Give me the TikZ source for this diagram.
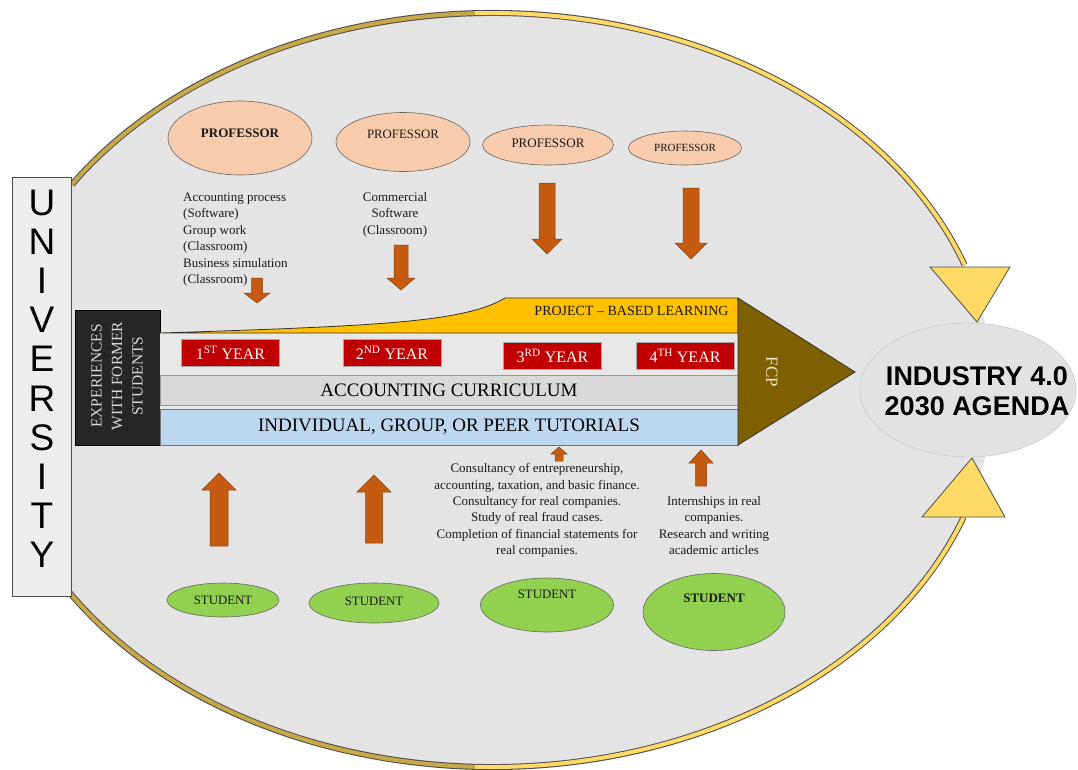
\documentclass[tikz,border=0pt]{standalone}
\usepackage{fontspec}
\setmainfont{Liberation Serif}
\newfontfamily\sansarial{Liberation Sans}
\usetikzlibrary{shapes.geometric}
\definecolor{bggray}{HTML}{E4E4E4}
\definecolor{indgray}{HTML}{E2E2E2}
\definecolor{univgray}{HTML}{EDEDED}
\definecolor{bandlight}{HTML}{E8E8E8}
\definecolor{profc}{HTML}{F8CBAD}
\definecolor{studc}{HTML}{92D050}
\definecolor{yearred}{HTML}{C00000}
\definecolor{pblyellow}{HTML}{FFC000}
\definecolor{fcpbrown}{HTML}{7F6000}
\definecolor{fcptext}{HTML}{EFE6D0}
\definecolor{tutblue}{HTML}{BDD7EE}
\definecolor{currgray}{HTML}{D9D9D9}
\definecolor{arrorange}{HTML}{C55A11}
\definecolor{goldlight}{HTML}{FFD966}
\definecolor{goldtan}{HTML}{C9A848}
\definecolor{expdark}{HTML}{262626}
\newcommand\blockdown[6]{% x, ytop, ytip, shaft, head, headlen
  \draw[blockarr] ({#1-#4/2},#2) -- ({#1+#4/2},#2) -- ({#1+#4/2},{#3-#6}) -- ({#1+#5/2},{#3-#6}) -- (#1,#3) -- ({#1-#5/2},{#3-#6}) -- ({#1-#4/2},{#3-#6}) -- cycle;}
\newcommand\blockup[6]{% x, ybot, ytip, shaft, head, headlen
  \draw[blockarr] ({#1-#4/2},#2) -- ({#1+#4/2},#2) -- ({#1+#4/2},{#3+#6}) -- ({#1+#5/2},{#3+#6}) -- (#1,#3) -- ({#1-#5/2},{#3+#6}) -- ({#1-#4/2},{#3+#6}) -- cycle;}
\begin{document}
\begin{tikzpicture}[x=1pt,y=-1pt,
  blockarr/.style={fill=arrorange, draw=arrorange!70!black, line width=0.5pt},
  prof/.style={ellipse, draw=black!60, fill=profc, inner sep=0pt, line width=0.6pt},
  stud/.style={ellipse, draw=black!60, fill=studc, inner sep=0pt, line width=0.6pt},
  yearbox/.style={rectangle, draw=black!35, fill=yearred, text=white, minimum width=98pt, minimum height=27pt, inner sep=0pt, font=\fontsize{16}{16}\selectfont},
  plain/.style={inner sep=0pt, text=black!90},
  body/.style={inner sep=0pt, text=black!90, font=\fontsize{13}{16.4}\selectfont},
  goldarc/.style={line width=4pt},
  goldrim/.style={line width=6pt, black!70},
  goldhead/.style={fill=goldlight, draw=black!70, line width=0.8pt},
]
\useasboundingbox (0,0) rectangle (1078,769);
\fill[white] (0,0) rectangle (1078,769);
% big ellipse
\begin{scope}
\clip (12,0) rectangle (1078,769);
\fill[bggray] (492,390) ellipse [x radius=501, y radius=377];
\end{scope}
% golden arcs
\path (492,390) ++(213:501 and 377) coordinate (tA);
\path (492,390) ++(268:501 and 377) coordinate (tM);
\path (492,390) ++(147.7:501 and 377) coordinate (bA);
\path (492,390) ++(92:501 and 377) coordinate (bM);
\draw[goldrim] (tA) arc[start angle=213, end angle=340.6, x radius=501, y radius=377] coordinate (tB);
\draw[goldarc, goldtan] (tA) arc[start angle=213, end angle=268, x radius=501, y radius=377];
\draw[goldarc, goldlight] (tM) arc[start angle=268, end angle=340.6, x radius=501, y radius=377];
\draw[goldrim] (bA) arc[start angle=147.7, end angle=19.7, x radius=501, y radius=377] coordinate (bB);
\draw[goldarc, goldtan] (bA) arc[start angle=147.7, end angle=92, x radius=501, y radius=377];
\draw[goldarc, goldlight] (bM) arc[start angle=92, end angle=19.7, x radius=501, y radius=377];
\coordinate (tipT) at (977,322);
\coordinate (tipB) at (972,458);
\draw[goldhead] (930,267) -- (1010,267) -- (tipT) -- cycle;
\draw[goldhead] (922,517) -- (1005,517) -- (tipB) -- cycle;
% industry
\node[ellipse, fill=indgray, draw=black!25, minimum width=216pt, minimum height=134pt, inner sep=0pt] (ind) at (968,390) {};
\node[plain, text=black, align=center, font=\sansarial\bfseries\fontsize{27}{30}\selectfont] (indt) at (977,391) {INDUSTRY 4.0\\2030 AGENDA};
% university
\node[draw=black!70, fill=univgray, minimum width=59pt, minimum height=419pt, inner sep=0pt, line width=0.8pt] (univ) at (41.5,387) {};
\foreach \L [count=\i from 0] in {U,N,I,V,E,R,S,I,T,Y}
  \node[plain, text=black, anchor=base, font=\sansarial\fontsize{37}{37}\selectfont] (u\i) at (42,{215+39.2*\i}) {\L};
% experiences
\node[fill=expdark, draw=black, minimum width=85pt, minimum height=135pt, inner sep=0pt] (exp) at (117.5,377.5) {};
\node[plain, rotate=90, text=white!85!black, align=center, font=\fontsize{15.5}{20.5}\selectfont] (expt) at (117,376) {EXPERIENCES\\WITH FORMER\\STUDENTS};
% bands
\fill[bandlight] (160,333) rectangle (738,409);
\node[rectangle, draw=black!40, fill=currgray, minimum width=578pt, minimum height=30pt, inner sep=0pt, font=\fontsize{19}{19}\selectfont] (curr) at (449,390) {ACCOUNTING CURRICULUM};
\node[rectangle, draw=black!55, fill=tutblue, minimum width=578pt, minimum height=36pt, inner sep=0pt, font=\fontsize{19}{19}\selectfont] (tut) at (449,427) {INDIVIDUAL, GROUP, OR PEER TUTORIALS};
\draw[fill=pblyellow, draw=black!80, line width=0.8pt] (160,333) .. controls (380,326) and (465,322) .. (505,298) -- (738,298) -- (738,333) -- cycle;
\node[plain, font=\fontsize{14}{14}\selectfont] (pbl) at (631.5,311) {PROJECT – BASED LEARNING};
% FCP
\draw[fill=fcpbrown, draw=black!80, line width=0.8pt] (738,298) -- (855,372) -- (738,445) -- cycle;
\node[plain, rotate=-90, text=fcptext, font=\fontsize{17}{17}\selectfont] (fcp) at (772,372) {FCP};
% years
\node[yearbox] (y1) at (230.5,353) {1\textsuperscript{ST} YEAR};
\node[yearbox] (y2) at (392,353) {2\textsuperscript{ND} YEAR};
\node[yearbox] (y3) at (552.5,356) {3\textsuperscript{RD} YEAR};
\node[yearbox] (y4) at (685,356) {4\textsuperscript{TH} YEAR};
% professors
\node[prof, minimum width=144pt, minimum height=74pt] (p1) at (240,138) {};
\node[plain, font=\bfseries\fontsize{13}{13}\selectfont] (p1t) at (240,133) {PROFESSOR};
\node[prof, minimum width=134pt, minimum height=59pt] (p2) at (403,142) {};
\node[plain, font=\fontsize{12.8}{12.8}\selectfont] (p2t) at (403,134) {PROFESSOR};
\node[prof, minimum width=131pt, minimum height=40pt] (p3) at (548,145) {};
\node[plain, font=\fontsize{13}{13}\selectfont] (p3t) at (548,143) {PROFESSOR};
\node[prof, minimum width=113pt, minimum height=34pt] (p4) at (685,148) {};
\node[plain, font=\fontsize{11}{11}\selectfont] (p4t) at (685,148) {PROFESSOR};
% texts top
\node[body, anchor=west, align=left] (t1) at (183,239.5) {Accounting process\\(Software)\\Group work\\(Classroom)\\Business simulation\\(Classroom)};
\node[body, align=center] (t2) at (395,214.5) {Commercial\\Software\\(Classroom)};
% down arrows
\blockdown{257}{278}{303}{11}{26}{10}
\blockdown{401}{245}{290}{14}{28}{12}
\blockdown{547}{183}{254}{16}{30}{15}
\blockdown{691}{188}{259}{16}{32}{16}
% up arrows
\blockup{219}{546}{473}{18}{34}{17}
\blockup{374}{543}{475}{17}{34}{17}
\blockup{559}{461}{447}{8}{16}{7}
\blockup{701}{486}{450}{11}{24}{13}
% texts bottom
\node[body, align=center] (t3) at (537,510.5) {Consultancy of entrepreneurship,\\accounting, taxation, and basic finance.\\Consultancy for real companies.\\Study of real fraud cases.\\Completion of financial statements for\\real companies.};
\node[body, align=center] (t4) at (714,525.5) {Internships in real\\companies.\\Research and writing\\academic articles};
% students
\node[stud, minimum width=112pt, minimum height=34pt] (s1) at (223,600) {};
\node[plain, font=\fontsize{12.8}{12.8}\selectfont] (s1t) at (223,600) {STUDENT};
\node[stud, minimum width=130pt, minimum height=40pt] (s2) at (374,603) {};
\node[plain, font=\fontsize{12.8}{12.8}\selectfont] (s2t) at (374,601) {STUDENT};
\node[stud, minimum width=133pt, minimum height=54pt] (s3) at (547,605) {};
\node[plain, font=\fontsize{12.8}{12.8}\selectfont] (s3t) at (547,594) {STUDENT};
\node[stud, minimum width=142pt, minimum height=77pt] (s4) at (714,612) {};
\node[plain, font=\bfseries\fontsize{13}{13}\selectfont] (s4t) at (714,598) {STUDENT};
\end{tikzpicture}
\end{document}
